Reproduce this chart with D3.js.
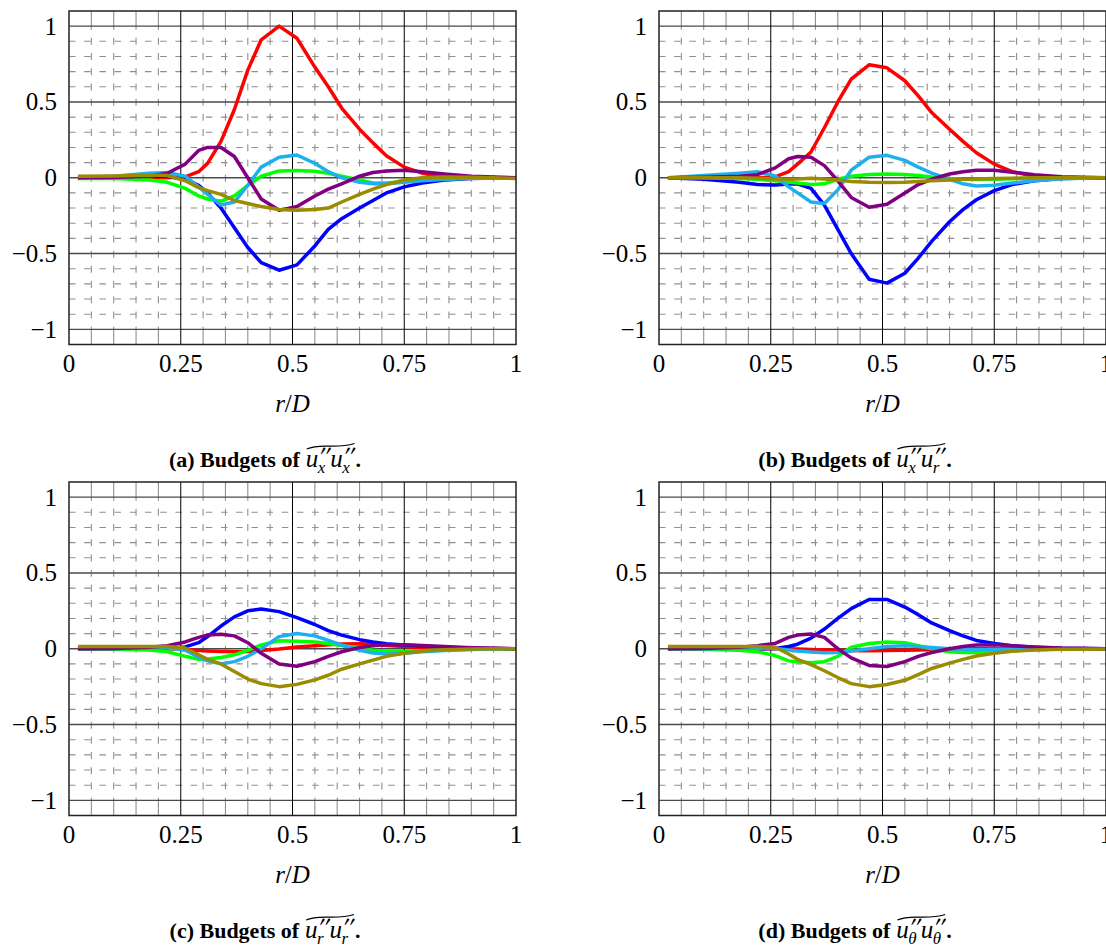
<!DOCTYPE html>
<html><head><meta charset="utf-8">
<script src="https://cdn.jsdelivr.net/npm/d3@7"></script>
<style>
body{margin:0;background:#fff}
svg{display:block}
</style>
</head><body>
<svg id="chart" width="1106" height="950"></svg>
<script>
// ---------- data ----------
const rD = [0.02, 0.10, 0.18, 0.22, 0.26, 0.29, 0.31, 0.34, 0.37, 0.40, 0.43, 0.47, 0.51, 0.55, 0.58, 0.61, 0.65, 0.68, 0.71, 0.75, 0.79, 0.84, 0.90, 1.00];
const xTicks = [0, 0.25, 0.5, 0.75, 1];
const xTickLabels = ["0", "0.25", "0.5", "0.75", "1"];
const yTicks = [-1, -0.5, 0, 0.5, 1];
const yTickLabels = ["\u22121", "\u22120.5", "0", "0.5", "1"];
const seriesColors = ["#ff0000", "#0000ff", "#00ff00", "#1eb0ee", "#800080", "#9b8b00"];
const panelLabels = ["(a)", "(b)", "(c)", "(d)"];
const subFirst = ["x", "x", "r", "\u03b8"];
const subSecond = ["x", "r", "r", "\u03b8"];

// (a) budgets of u''x u''x
const aRed    = [0,0,0,0,0.005,0.04,0.095,0.24,0.45,0.71,0.91,1.0,0.92,0.73,0.6,0.46,0.32,0.23,0.145,0.07,0.03,0.008,0.002,0];
const aBlue   = [0,0.005,0.01,0.01,-0.01,-0.05,-0.1,-0.2,-0.33,-0.46,-0.56,-0.61,-0.575,-0.45,-0.34,-0.27,-0.2,-0.15,-0.1,-0.06,-0.035,-0.015,-0.005,0];
const aGreen  = [-0.005,-0.005,-0.015,-0.03,-0.07,-0.12,-0.14,-0.155,-0.12,-0.05,0.01,0.045,0.048,0.043,0.03,0.01,-0.015,-0.035,-0.035,-0.025,-0.015,-0.008,-0.002,0];
const aCyan   = [0,0.01,0.03,0.035,0.01,-0.06,-0.11,-0.18,-0.16,-0.05,0.07,0.135,0.15,0.095,0.04,0.0,-0.03,-0.04,-0.04,-0.03,-0.02,-0.01,-0.003,0];
const aPurple = [0,0.002,0.01,0.03,0.09,0.18,0.2,0.2,0.14,0.0,-0.14,-0.215,-0.19,-0.12,-0.075,-0.04,0.01,0.035,0.045,0.05,0.04,0.025,0.01,0];
const aOlive  = [0.01,0.012,0.018,0.015,-0.02,-0.065,-0.085,-0.11,-0.15,-0.17,-0.19,-0.21,-0.215,-0.21,-0.2,-0.16,-0.11,-0.075,-0.045,-0.015,0,0.005,0.003,-0.005];

// (b) budgets of u''x u''r
const bRed    = [0,0,0,0,0.005,0.04,0.09,0.17,0.33,0.5,0.65,0.745,0.725,0.64,0.54,0.43,0.32,0.24,0.165,0.09,0.04,0.01,0.002,0];
const bBlue   = [0,-0.01,-0.03,-0.045,-0.048,-0.042,-0.04,-0.07,-0.18,-0.34,-0.5,-0.67,-0.695,-0.63,-0.53,-0.42,-0.29,-0.21,-0.145,-0.085,-0.045,-0.02,-0.005,0];
const bGreen  = [0,0,-0.005,-0.01,-0.02,-0.03,-0.035,-0.045,-0.04,-0.01,0.01,0.022,0.025,0.022,0.015,0.005,-0.005,-0.01,-0.012,-0.01,-0.006,-0.003,0,0];
const bCyan   = [0,0.015,0.03,0.04,0.012,-0.06,-0.1,-0.16,-0.17,-0.08,0.05,0.135,0.148,0.115,0.07,0.03,-0.01,-0.04,-0.055,-0.05,-0.035,-0.02,-0.007,0];
const bPurple = [0,0.003,0.01,0.02,0.065,0.125,0.14,0.135,0.08,-0.02,-0.13,-0.195,-0.175,-0.1,-0.045,-0.01,0.025,0.04,0.05,0.05,0.037,0.02,0.007,0];
const bOlive  = [0,0,0,-0.003,-0.008,-0.01,-0.008,-0.003,-0.008,-0.015,-0.025,-0.03,-0.032,-0.03,-0.025,-0.02,-0.015,-0.01,-0.008,-0.005,-0.003,0,0,0];

// (c) budgets of u''r u''r
const cRed    = [0,0,0,0,-0.003,-0.012,-0.015,-0.018,-0.02,-0.018,-0.012,-0.002,0.012,0.02,0.027,0.032,0.033,0.03,0.022,0.014,0.007,0.003,0.001,0];
const cBlue   = [0,0,0,0.002,0.012,0.04,0.08,0.15,0.21,0.25,0.262,0.245,0.205,0.16,0.12,0.09,0.06,0.045,0.033,0.025,0.018,0.01,0.004,0];
const cGreen  = [0,-0.002,-0.008,-0.02,-0.05,-0.07,-0.068,-0.058,-0.04,-0.01,0.025,0.052,0.05,0.045,0.035,0.022,0.005,-0.01,-0.018,-0.018,-0.014,-0.008,-0.003,0];
const cCyan   = [0,0.002,0.005,0.005,-0.01,-0.055,-0.08,-0.1,-0.085,-0.05,0.0,0.08,0.1,0.085,0.055,0.025,-0.01,-0.028,-0.035,-0.03,-0.02,-0.012,-0.005,0];
const cPurple = [0,0.002,0.01,0.02,0.045,0.075,0.09,0.096,0.085,0.04,-0.03,-0.1,-0.115,-0.085,-0.05,-0.02,0.008,0.02,0.026,0.026,0.022,0.015,0.007,0];
const cOlive  = [0.015,0.015,0.015,0.015,0.005,-0.04,-0.07,-0.1,-0.15,-0.2,-0.23,-0.25,-0.235,-0.205,-0.175,-0.135,-0.1,-0.075,-0.05,-0.03,-0.015,-0.006,-0.002,0];

// (d) budgets of u''θ u''θ
const dRed    = [0,0,0,0,0,0,-0.002,-0.005,-0.008,-0.01,-0.012,-0.013,-0.012,-0.01,-0.008,-0.005,-0.003,-0.002,0,0,0,0,0,0];
const dBlue   = [0,0,0,0,0.002,0.015,0.03,0.07,0.13,0.2,0.265,0.325,0.325,0.275,0.225,0.17,0.12,0.085,0.055,0.035,0.02,0.01,0.003,0];
const dGreen  = [0,-0.003,-0.01,-0.02,-0.045,-0.08,-0.085,-0.092,-0.085,-0.05,0.01,0.035,0.045,0.04,0.02,0.0,-0.02,-0.025,-0.024,-0.018,-0.012,-0.006,-0.002,0];
const dCyan   = [0,0,0.003,0.005,0.002,-0.008,-0.015,-0.022,-0.026,-0.025,-0.015,0.0,0.015,0.02,0.015,0.008,0.0,-0.005,-0.006,-0.005,-0.003,-0.002,0,0];
const dPurple = [0,0.002,0.01,0.02,0.035,0.075,0.09,0.097,0.075,0.0,-0.06,-0.11,-0.117,-0.085,-0.05,-0.025,0.0,0.015,0.025,0.027,0.02,0.012,0.005,0];
const dOlive  = [0.015,0.015,0.015,0.015,0.01,-0.035,-0.07,-0.105,-0.145,-0.19,-0.23,-0.25,-0.236,-0.208,-0.17,-0.13,-0.095,-0.07,-0.048,-0.03,-0.017,-0.008,-0.003,-0.002];

// ---------- drawing ----------
const SERIF = '"Liberation Serif", "Times New Roman", serif';
const PRIME_FONT = '"FreeSerif", "Liberation Serif", serif';
const svg = d3.select("#chart");
const W = 447, H = 333.5;
const panels = [
  {left: 69,  top: 11,  data: [aRed, aBlue, aGreen, aCyan, aPurple, aOlive]},
  {left: 659, top: 11,  data: [bRed, bBlue, bGreen, bCyan, bPurple, bOlive]},
  {left: 69,  top: 482, data: [cRed, cBlue, cGreen, cCyan, cPurple, cOlive]},
  {left: 659, top: 482, data: [dRed, dBlue, dGreen, dCyan, dPurple, dOlive]}
];

function isMajorY(v) { return Math.abs(v * 2 - Math.round(v * 2)) < 1e-6; }
function isMajorX(v) { return Math.abs(v * 4 - Math.round(v * 4)) < 1e-6; }

panels.forEach((p, i) => {
  const x = d3.scaleLinear().domain([0, 1]).range([p.left, p.left + W]);
  const y = d3.scaleLinear().domain([-1.1, 1.1]).range([p.top + H, p.top]);
  const g = svg.append("g");

  // minor horizontal grid
  const yMinor = d3.range(-10, 11).map(k => k / 10).filter(v => !isMajorY(v));
  g.selectAll(null).data(yMinor).join("line")
    .attr("x1", x(0)).attr("x2", x(1))
    .attr("y1", d => y(d)).attr("y2", d => y(d))
    .attr("stroke", "#8f8f8f").attr("stroke-width", 1.1)
    .attr("stroke-dasharray", "6.5,8.7");

  // minor vertical grid (dashed between y=1 and y=-1), ticks in the edge strips
  const xMinor = d3.range(1, 20).map(k => k / 20).filter(v => !isMajorX(v));
  g.selectAll(null).data(xMinor).join("line")
    .attr("x1", d => x(d)).attr("x2", d => x(d))
    .attr("y1", y(1)).attr("y2", y(-1))
    .attr("stroke", "#8f8f8f").attr("stroke-width", 1.1)
    .attr("stroke-dasharray", "7,8.2").attr("stroke-dashoffset", 3.5);
  [[1, 1.1], [-1.1, -1]].forEach(([a, b]) => {
    g.selectAll(null).data(xMinor).join("line")
      .attr("x1", d => x(d)).attr("x2", d => x(d))
      .attr("y1", y(a)).attr("y2", y(b))
      .attr("stroke", "#8f8f8f").attr("stroke-width", 1.1);
  });

  // major grid
  g.selectAll(null).data(yTicks).join("line")
    .attr("x1", x(0)).attr("x2", x(1))
    .attr("y1", d => y(d)).attr("y2", d => y(d))
    .attr("stroke", "#4a4a4a").attr("stroke-width", 1.4);
  g.selectAll(null).data(xTicks.filter(v => v > 0 && v < 1)).join("line")
    .attr("x1", d => x(d)).attr("x2", d => x(d))
    .attr("y1", y(1.1)).attr("y2", y(-1.1))
    .attr("stroke", "#000").attr("stroke-width", 1);

  // series
  const line = d3.line().x((d, k) => x(rD[k])).y(d => y(d));
  p.data.forEach((vals, s) => {
    g.append("path").datum(vals)
      .attr("d", line)
      .attr("fill", "none")
      .attr("stroke", seriesColors[s])
      .attr("stroke-width", 3.5)
      .attr("stroke-linejoin", "round");
  });

  // frame
  g.append("rect")
    .attr("x", x(0)).attr("y", y(1.1))
    .attr("width", x(1) - x(0)).attr("height", y(-1.1) - y(1.1))
    .attr("fill", "none").attr("stroke", "#222").attr("stroke-width", 1.5);

  // tick labels
  g.selectAll(null).data(xTicks).join("text")
    .attr("x", d => x(d)).attr("y", y(-1.1) + 27.5)
    .attr("text-anchor", "middle")
    .style("font-family", SERIF).attr("font-size", 25)
    .text((d, k) => xTickLabels[k]);
  g.selectAll(null).data(yTicks).join("text")
    .attr("x", x(0) - 12).attr("y", d => y(d) + 8.5)
    .attr("text-anchor", "end")
    .style("font-family", SERIF).attr("font-size", 25)
    .text((d, k) => yTickLabels[k]);

  // axis label r/D
  const xl = g.append("text")
    .attr("x", x(0.5)).attr("y", y(-1.1) + 67.5)
    .attr("text-anchor", "middle")
    .style("font-family", SERIF).attr("font-size", 25);
  xl.append("tspan").attr("font-style", "italic").text("r");
  xl.append("tspan").text("/");
  xl.append("tspan").attr("font-style", "italic").text("D");

  // caption
  const yb = y(-1.1) + 122.5;
  const cg = g.append("g");
  const fs = 22;
  const t1 = cg.append("text").attr("x", 0).attr("y", yb)
    .style("font-family", SERIF).attr("font-size", fs).attr("font-weight", "bold")
    .text(panelLabels[i] + " Budgets of");
  let cur = t1.node().getComputedTextLength() + 6;
  const mathStart = cur;
  function addTerm(sub) {
    const u = cg.append("text").attr("x", cur).attr("y", yb)
      .style("font-family", SERIF).attr("font-size", 25).attr("font-style", "italic").text("u");
    cur += u.node().getComputedTextLength();
    const pr = cg.append("text").attr("x", cur + 1).attr("y", yb - 3)
      .style("font-family", PRIME_FONT).attr("font-size", 22).attr("font-style", "italic").text("\u2032\u2032");
    const sb = cg.append("text").attr("x", cur - 0.5).attr("y", yb + 5.5)
      .style("font-family", SERIF).attr("font-size", 17).attr("font-style", "italic").text(sub);
    cur += Math.max(pr.node().getComputedTextLength() * 0.9 + 1, sb.node().getComputedTextLength()) + 1;
  }
  addTerm(subFirst[i]);
  addTerm(subSecond[i]);
  const mathEnd = cur;
  const dot = cg.append("text").attr("x", cur + 1).attr("y", yb)
    .style("font-family", SERIF).attr("font-size", fs).attr("font-weight", "bold").text(".");
  cur += 1 + dot.node().getComputedTextLength();
  const ty = yb - 21, tw = mathEnd - mathStart;
  cg.append("path")
    .attr("d", `M${mathStart + 1},${ty + 3} C${mathStart + tw * 0.3},${ty - 3.5} ${mathStart + tw * 0.6},${ty + 3.5} ${mathEnd},${ty - 2.5}`)
    .attr("fill", "none").attr("stroke", "#000").attr("stroke-width", 1.3);
  const total = cur;
  const cx = p.left + 196;
  cg.attr("transform", `translate(${cx - total / 2},0)`);
});
</script>
</body></html>
